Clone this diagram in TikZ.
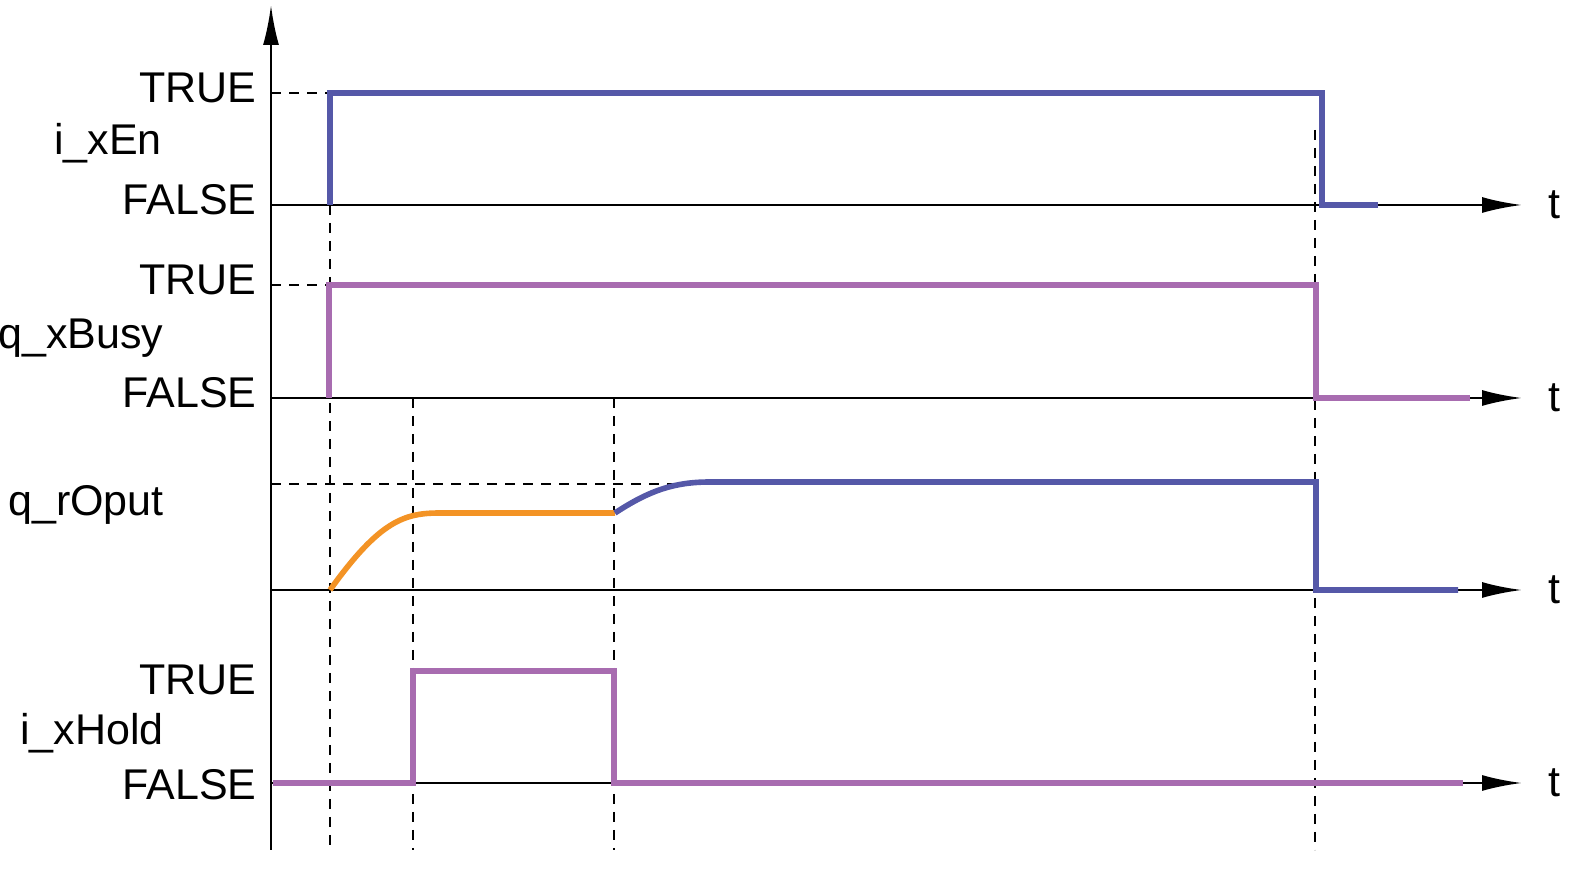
\documentclass[tikz,border=0pt]{standalone}
\usepackage{fontspec}
\setmainfont{Liberation Sans}
\usetikzlibrary{arrows.meta}
\definecolor{sblue}{HTML}{5558A8}
\definecolor{spurp}{HTML}{A86CB0}
\definecolor{sorange}{HTML}{F39325}
\begin{document}
\begin{tikzpicture}[x=0.5pt,y=-0.5pt,
  axis/.style={line width=1.3pt,-{Latex[length=20pt,width=8pt]}},
  guide/.style={dashed,line width=0.9pt,dash pattern=on 5pt off 4pt},
  sig/.style={line width=2.8pt},
  lbl/.style={font=\fontsize{21.5}{25}\selectfont,inner sep=0pt},
  val/.style={lbl,anchor=east}]
\useasboundingbox (0,0) rectangle (1596,870);
% guides
\draw[guide] (330,205) -- (330,850);
\draw[guide] (413,398) -- (413,850);
\draw[guide] (614,398) -- (614,850);
\draw[guide] (1315,130) -- (1315,850);
\draw[guide] (271,93) -- (330,93);
\draw[guide] (271,285) -- (329,285);
\draw[guide] (271,484) -- (710,484);
% axes
\coordinate (o) at (271,850);
\coordinate (top) at (271,5);
\draw[axis] (o) -- (top);
\foreach \y/\n in {205/a,398/b,590/c,783/d}{
  \coordinate (s\n) at (271,\y);
  \coordinate (e\n) at (1522,\y);
  \draw[axis] (s\n) -- (e\n);
  \node[lbl,anchor=west] at (1548,\y) {t};
}
% labels
\node[val] at (257,88) {TRUE};
\node[val] at (257,200) {FALSE};
\node[lbl] at (108,143) {i\_xEn};
\node[val] at (257,280) {TRUE};
\node[val] at (257,393) {FALSE};
\node[lbl] at (81,338) {q\_xBusy};
\node[lbl] at (86,505) {q\_rOput};
\node[val] at (257,680) {TRUE};
\node[val] at (257,785) {FALSE};
\node[lbl] at (92,733) {i\_xHold};
% signals
\draw[sig,sblue] (330,205) -- (330,93) -- (1322,93) -- (1322,205) -- (1378,205);
\draw[sig,spurp] (329,398) -- (329,285) -- (1316,285) -- (1316,398) -- (1470,398);
\draw[sig,sorange] (330,590) .. controls (380,520) and (405,513) .. (440,513) -- (615,513);
\draw[sig,sblue] (615,513) .. controls (650,490) and (675,482) .. (710,482) -- (1316,482) -- (1316,590) -- (1458,590);
\draw[sig,spurp] (273,783) -- (413,783) -- (413,671) -- (614,671) -- (614,783) -- (1463,783);
\end{tikzpicture}
\end{document}
